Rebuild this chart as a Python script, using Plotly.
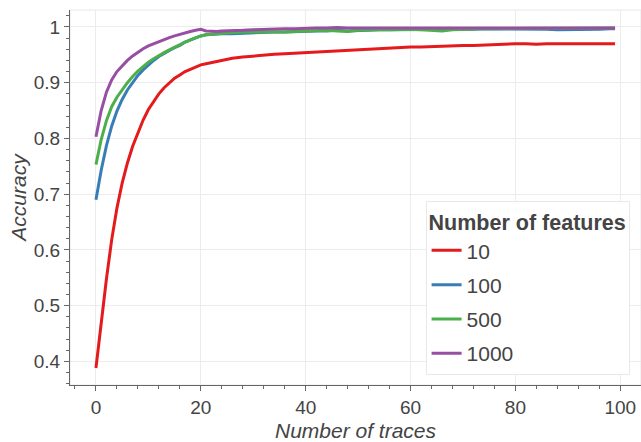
import plotly.graph_objects as go

x_vals = list(range(0, 25)) + list(range(26, 99, 2)) + [99]

acc_10 = [0.388, 0.470, 0.548, 0.618, 0.675, 0.720, 0.756, 0.786, 0.811, 0.833,
          0.852, 0.867, 0.880, 0.891, 0.900, 0.908, 0.914, 0.920, 0.924, 0.928,
          0.932, 0.934, 0.936, 0.938, 0.941,
          0.944, 0.946, 0.948, 0.950, 0.951, 0.952, 0.953, 0.955, 0.955, 0.956,
          0.957, 0.958, 0.960, 0.961, 0.961, 0.962, 0.963, 0.964, 0.964, 0.965,
          0.965, 0.966, 0.967, 0.967, 0.968, 0.969, 0.969, 0.970, 0.970, 0.969,
          0.970, 0.970, 0.969, 0.970, 0.970, 0.970, 0.970, 0.970]

acc_100 = [0.690, 0.743, 0.787, 0.822, 0.849, 0.870, 0.887, 0.901, 0.913, 0.923,
           0.932, 0.940, 0.947, 0.953, 0.958, 0.963, 0.967, 0.973, 0.977, 0.981,
           0.984, 0.986, 0.987, 0.987, 0.988,
           0.988, 0.989, 0.990, 0.990, 0.991, 0.991, 0.992, 0.993, 0.993, 0.993,
           0.994, 0.993, 0.994, 0.994, 0.995, 0.995, 0.995, 0.995, 0.996, 0.995,
           0.996, 0.996, 0.996, 0.996, 0.997, 0.997, 0.997, 0.997, 0.997, 0.996,
           0.996, 0.995, 0.995, 0.995, 0.996, 0.996, 0.997, 0.997]

acc_500 = [0.753, 0.798, 0.832, 0.857, 0.874, 0.888, 0.900, 0.911, 0.921, 0.929,
           0.937, 0.943, 0.949, 0.954, 0.959, 0.964, 0.968, 0.973, 0.977, 0.981,
           0.984, 0.986, 0.987, 0.988, 0.989,
           0.990, 0.991, 0.991, 0.990, 0.990, 0.991, 0.992, 0.993, 0.993, 0.994,
           0.993, 0.992, 0.994, 0.995, 0.995, 0.995, 0.996, 0.996, 0.995, 0.994,
           0.993, 0.995, 0.996, 0.996, 0.997, 0.997, 0.997, 0.997, 0.998, 0.998,
           0.997, 0.997, 0.998, 0.998, 0.998, 0.998, 0.998, 0.998]

acc_1000 = [0.803, 0.850, 0.883, 0.905, 0.920, 0.931, 0.940, 0.948, 0.955, 0.961,
            0.966, 0.970, 0.974, 0.978, 0.981, 0.984, 0.987, 0.990, 0.992, 0.994,
            0.996, 0.993, 0.992, 0.992, 0.993,
            0.993, 0.994, 0.995, 0.996, 0.996, 0.997, 0.997, 0.998, 0.998, 0.998,
            0.999, 0.998, 0.998, 0.998, 0.998, 0.998, 0.998, 0.999, 0.999, 0.999,
            0.999, 0.999, 0.999, 0.999, 0.999, 0.999, 0.999, 0.999, 0.999, 0.999,
            0.999, 0.999, 0.999, 0.999, 0.999, 0.999, 0.998, 0.998]

series_names = ["10", "100", "500", "1000"]
series_values = [acc_10, acc_100, acc_500, acc_1000]
colors = ["#e41a1c", "#377eb8", "#4daf4a", "#984ea3"]

FONT = "Liberation Sans, Arial, sans-serif"
TXT = "#444444"

fig = go.Figure()
for name, vals, col in zip(series_names, series_values, colors):
    fig.add_trace(go.Scatter(
        x=x_vals, y=vals, mode="lines", name=name, legendgroup=name,
        line=dict(color=col, width=3),
    ))

fig.update_layout(
    width=641, height=442,
    margin=dict(l=70, r=0, t=10, b=57),
    paper_bgcolor="white", plot_bgcolor="white",
    font=dict(family=FONT, color=TXT, size=18),
    showlegend=True,
    legend=dict(
        title=dict(text="<b>Number of features</b>", font=dict(size=21.5, color=TXT)),
        font=dict(size=21, color=TXT),
        x=0.98, y=0.026, xanchor="right", yanchor="bottom",
        bgcolor="white", bordercolor="#e8e8e8", borderwidth=1,
        tracegroupgap=4, itemwidth=30,
    ),
    shapes=[dict(type="rect", xref="paper", yref="paper", x0=0, x1=1, y0=0, y1=1,
                 line=dict(color="#e8e8e8", width=1), layer="below")],
)

fig.update_xaxes(
    range=[-4.95, 103.95], tickvals=[0, 20, 40, 60, 80, 100],
    showgrid=True, gridcolor="#ececec", gridwidth=1, zeroline=False,
    showline=True, linecolor="#666666", linewidth=1,
    ticks="outside", ticklen=5, tickcolor="#666666", tickwidth=1,
    tickfont=dict(size=19, color=TXT),
    minor=dict(dtick=4, tick0=0, ticks="outside", ticklen=3, tickcolor="#666666", showgrid=False),
    title=dict(text="<i>Number of traces</i>", font=dict(size=21, color=TXT), standoff=6),
)
fig.update_yaxes(
    range=[0.3575, 1.0305], tickvals=[0.4, 0.5, 0.6, 0.7, 0.8, 0.9, 1.0],
    ticktext=["0.4", "0.5", "0.6", "0.7", "0.8", "0.9", "1"],
    showgrid=True, gridcolor="#ececec", gridwidth=1, zeroline=False,
    showline=True, linecolor="#666666", linewidth=1,
    ticks="outside", ticklen=5, tickcolor="#666666", tickwidth=1,
    tickfont=dict(size=19, color=TXT),
    minor=dict(dtick=0.02, tick0=0, ticks="outside", ticklen=3, tickcolor="#666666", showgrid=False),
    title=dict(text="<i>Accuracy</i>", font=dict(size=21, color=TXT), standoff=1),
)

fig.write_html("out.html")
